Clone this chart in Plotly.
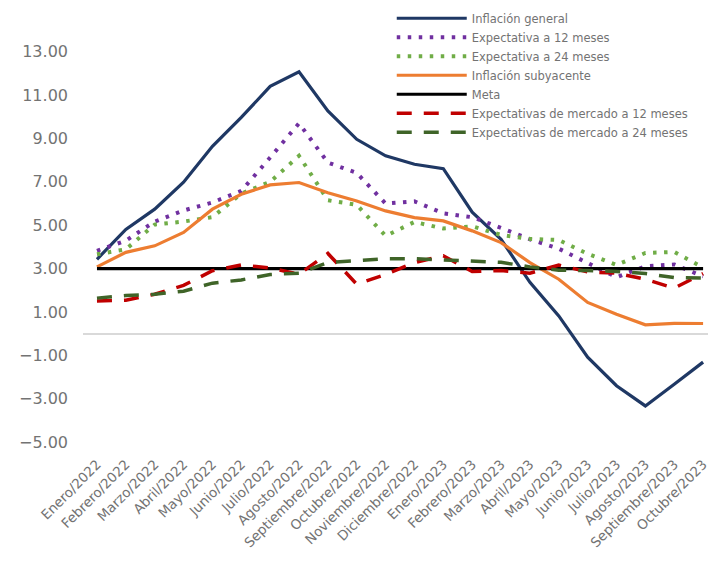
import plotly.graph_objects as go

meses = [
    "Enero/2022", "Febrero/2022", "Marzo/2022", "Abril/2022", "Mayo/2022", "Junio/2022",
    "Julio/2022", "Agosto/2022", "Septiembre/2022", "Octubre/2022", "Noviembre/2022",
    "Diciembre/2022", "Enero/2023", "Febrero/2023", "Marzo/2023", "Abril/2023",
    "Mayo/2023", "Junio/2023", "Julio/2023", "Agosto/2023", "Septiembre/2023", "Octubre/2023",
]

inflacion_general = [3.43, 4.81, 5.74, 6.98, 8.64, 9.97, 11.40, 12.07, 10.27, 8.96, 8.20,
                     7.81, 7.61, 5.60, 4.35, 2.37, 0.82, -1.08, -2.40, -3.33, -2.33, -1.31]
expectativa_12 = [3.82, 4.29, 5.17, 5.68, 6.05, 6.58, 8.12, 9.70, 7.89, 7.41, 6.00,
                  6.10, 5.55, 5.37, 4.88, 4.35, 3.92, 3.26, 2.60, 3.11, 3.19, 2.64]
expectativa_24 = [3.66, 3.89, 5.03, 5.17, 5.37, 6.46, 7.00, 8.20, 6.15, 5.94, 4.51,
                  5.15, 4.85, 4.95, 4.55, 4.37, 4.32, 3.68, 3.17, 3.72, 3.77, 3.05]
inflacion_subyacente = [3.08, 3.75, 4.05, 4.67, 5.74, 6.43, 6.86, 6.97, 6.50, 6.12, 5.66,
                        5.35, 5.20, 4.74, 4.20, 3.28, 2.51, 1.44, 0.90, 0.41, 0.48, 0.47]
meta = [3.0] * len(meses)
mercado_12 = [1.51, 1.54, 1.82, 2.23, 2.90, 3.17, 3.03, 2.74, 3.70, 2.28, 2.73,
              3.28, 3.59, 2.87, 2.91, 2.79, 3.16, 2.85, 2.79, 2.51, 2.10, 2.77]
mercado_24 = [1.64, 1.76, 1.82, 1.96, 2.33, 2.48, 2.73, 2.79, 3.28, 3.39, 3.46,
              3.46, 3.40, 3.36, 3.29, 3.08, 2.93, 2.91, 2.87, 2.77, 2.59, 2.56]

y_ticks = [13, 11, 9, 7, 5, 3, 1, -1, -3, -5]

series = [
    ("Inflación general", inflacion_general, "#1F3864", 3.2, "solid"),
    ("Expectativa a 12 meses", expectativa_12, "#7030A0", 4, "3.5px,7.5px"),
    ("Expectativa a 24 meses", expectativa_24, "#70AD47", 4, "3.5px,7.5px"),
    ("Inflación subyacente", inflacion_subyacente, "#ED7D31", 3.2, "solid"),
    ("Meta", meta, "#000000", 3.2, "solid"),
    ("Expectativas de mercado a 12 meses", mercado_12, "#C00000", 3.5, "15px,12px"),
    ("Expectativas de mercado a 24 meses", mercado_24, "#3F6428", 3.5, "15px,12px"),
]

fig = go.Figure()
for name, values, color, width, dash in series:
    fig.add_trace(go.Scatter(
        x=meses, y=values, name=name, mode="lines",
        line=dict(color=color, width=width, dash=dash),
    ))

font_family = "'DejaVu Sans', sans-serif"
grey = "#737373"

fig.update_layout(
    width=710, height=584,
    margin=dict(l=83, r=0, t=30, b=131),
    plot_bgcolor="white", paper_bgcolor="white",
    font=dict(family=font_family, color=grey),
    showlegend=True,
    legend=dict(
        x=0.494, y=1.062, xanchor="left", yanchor="top",
        bgcolor="rgba(255,255,255,0)",
        font=dict(size=11.5, color=grey, family=font_family),
        itemwidth=70, tracegroupgap=0,
    ),
    xaxis=dict(
        type="category", range=[-0.484, 21.17],
        showgrid=False, zeroline=False, showline=False, ticks="",
        tickangle=-45, tickfont=dict(size=13.5, color=grey),
    ),
    yaxis=dict(
        range=[-5.5, 14], tickvals=y_ticks,
        ticktext=[f"{v:.2f}".replace("-", "\u2212") for v in y_ticks],
        showgrid=False, zeroline=True, zerolinecolor="#D9D9D9", zerolinewidth=1.5,
        showline=False, ticks="", ticklabelstandoff=14,
        tickfont=dict(size=16, color=grey),
    ),
)

fig.write_html("out.html")
